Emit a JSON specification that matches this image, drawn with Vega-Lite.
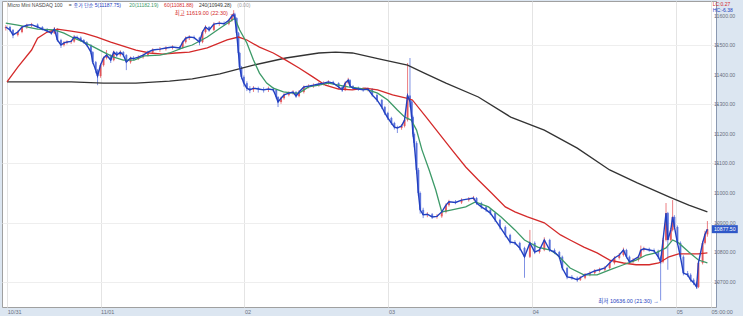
{
"$schema": "https://vega.github.io/schema/vega-lite/v6.json",
"width": 714, "height": 306,
"autosize": {"type": "none"},
"padding": {"left": 2, "top": 1, "right": 27, "bottom": 9},
"background": "#dce6f1",
"config": {"view": {"fill": "white", "stroke": "#a0a0a0", "strokeWidth": 1}, "font": "Liberation Sans, Noto Sans CJK KR"},
"datasets": {
"candles": [
{"t":8.2,"o":11558,"c":11562,"h":11568,"l":11550},
{"t":8.9,"o":11562,"c":11552,"h":11566,"l":11546},
{"t":9.4,"o":11552,"c":11535,"h":11555,"l":11524},
{"t":10.2,"o":11535,"c":11545,"h":11550,"l":11530},
{"t":10.9,"o":11545,"c":11562,"h":11566,"l":11541},
{"t":11.7,"o":11562,"c":11568,"h":11573,"l":11556},
{"t":12.5,"o":11568,"c":11570,"h":11576,"l":11562},
{"t":13.5,"o":11570,"c":11562,"h":11574,"l":11557},
{"t":14.3,"o":11562,"c":11555,"h":11565,"l":11550},
{"t":15.1,"o":11555,"c":11548,"h":11558,"l":11543},
{"t":15.8,"o":11548,"c":11541,"h":11551,"l":11535},
{"t":16.3,"o":11541,"c":11555,"h":11562,"l":11538},
{"t":16.8,"o":11555,"c":11518,"h":11558,"l":11512},
{"t":17.4,"o":11518,"c":11501,"h":11522,"l":11491},
{"t":17.9,"o":11501,"c":11508,"h":11514,"l":11496},
{"t":18.4,"o":11508,"c":11511,"h":11517,"l":11503},
{"t":19.1,"o":11511,"c":11513,"h":11518,"l":11505},
{"t":19.6,"o":11513,"c":11528,"h":11535,"l":11509},
{"t":20.1,"o":11528,"c":11526,"h":11533,"l":11520},
{"t":20.7,"o":11526,"c":11518,"h":11530,"l":11512},
{"t":21.2,"o":11518,"c":11511,"h":11521,"l":11505},
{"t":21.7,"o":11511,"c":11501,"h":11514,"l":11496},
{"t":22.4,"o":11501,"c":11477,"h":11504,"l":11470},
{"t":22.7,"o":11477,"c":11443,"h":11480,"l":11436},
{"t":23.2,"o":11443,"c":11416,"h":11447,"l":11405},
{"t":23.5,"o":11416,"c":11396,"h":11420,"l":11365},
{"t":24.0,"o":11396,"c":11433,"h":11438,"l":11390},
{"t":24.5,"o":11433,"c":11457,"h":11462,"l":11428},
{"t":25.0,"o":11457,"c":11467,"h":11484,"l":11452},
{"t":25.7,"o":11467,"c":11450,"h":11470,"l":11440},
{"t":26.2,"o":11450,"c":11477,"h":11482,"l":11446},
{"t":26.7,"o":11477,"c":11467,"h":11480,"l":11460},
{"t":27.3,"o":11467,"c":11477,"h":11483,"l":11462},
{"t":27.8,"o":11477,"c":11467,"h":11480,"l":11460},
{"t":28.3,"o":11467,"c":11443,"h":11470,"l":11416},
{"t":29.0,"o":11443,"c":11457,"h":11462,"l":11438},
{"t":29.5,"o":11457,"c":11455,"h":11463,"l":11449},
{"t":30.3,"o":11455,"c":11460,"h":11466,"l":11450},
{"t":31.1,"o":11460,"c":11467,"h":11472,"l":11455},
{"t":31.9,"o":11467,"c":11477,"h":11482,"l":11462},
{"t":32.7,"o":11477,"c":11484,"h":11490,"l":11472},
{"t":33.9,"o":11484,"c":11487,"h":11494,"l":11478},
{"t":34.9,"o":11487,"c":11491,"h":11497,"l":11482},
{"t":36.0,"o":11491,"c":11494,"h":11500,"l":11486},
{"t":37.2,"o":11494,"c":11491,"h":11498,"l":11485},
{"t":37.7,"o":11491,"c":11511,"h":11516,"l":11488},
{"t":38.2,"o":11511,"c":11524,"h":11530,"l":11506},
{"t":38.8,"o":11524,"c":11528,"h":11534,"l":11518},
{"t":39.6,"o":11528,"c":11526,"h":11533,"l":11520},
{"t":40.5,"o":11526,"c":11511,"h":11529,"l":11500},
{"t":41.0,"o":11511,"c":11545,"h":11550,"l":11507},
{"t":41.5,"o":11545,"c":11562,"h":11568,"l":11540},
{"t":42.1,"o":11562,"c":11552,"h":11565,"l":11546},
{"t":42.9,"o":11552,"c":11572,"h":11578,"l":11548},
{"t":43.8,"o":11572,"c":11575,"h":11582,"l":11566},
{"t":44.6,"o":11575,"c":11573,"h":11581,"l":11567},
{"t":45.4,"o":11573,"c":11585,"h":11590,"l":11568},
{"t":45.9,"o":11585,"c":11599,"h":11605,"l":11580},
{"t":46.2,"o":11599,"c":11605,"h":11619,"l":11594},
{"t":46.4,"o":11605,"c":11592,"h":11610,"l":11586},
{"t":46.7,"o":11592,"c":11541,"h":11595,"l":11535},
{"t":47.0,"o":11541,"c":11474,"h":11545,"l":11466},
{"t":47.2,"o":11474,"c":11426,"h":11478,"l":11418},
{"t":47.5,"o":11426,"c":11393,"h":11430,"l":11385},
{"t":47.9,"o":11393,"c":11372,"h":11398,"l":11360},
{"t":48.4,"o":11372,"c":11355,"h":11378,"l":11345},
{"t":48.9,"o":11355,"c":11349,"h":11362,"l":11338},
{"t":49.5,"o":11349,"c":11355,"h":11362,"l":11342},
{"t":50.3,"o":11355,"c":11352,"h":11360,"l":11340},
{"t":51.2,"o":11352,"c":11349,"h":11358,"l":11340},
{"t":52.0,"o":11349,"c":11352,"h":11360,"l":11342},
{"t":52.8,"o":11352,"c":11349,"h":11358,"l":11343},
{"t":53.3,"o":11349,"c":11325,"h":11352,"l":11318},
{"t":53.6,"o":11325,"c":11308,"h":11328,"l":11291},
{"t":54.1,"o":11308,"c":11321,"h":11326,"l":11302},
{"t":54.6,"o":11321,"c":11332,"h":11338,"l":11316},
{"t":55.4,"o":11332,"c":11338,"h":11344,"l":11327},
{"t":56.1,"o":11338,"c":11342,"h":11348,"l":11333},
{"t":56.6,"o":11342,"c":11328,"h":11345,"l":11322},
{"t":57.1,"o":11328,"c":11342,"h":11348,"l":11324},
{"t":57.9,"o":11342,"c":11359,"h":11364,"l":11337},
{"t":58.7,"o":11359,"c":11362,"h":11368,"l":11354},
{"t":59.5,"o":11362,"c":11365,"h":11371,"l":11356},
{"t":60.4,"o":11365,"c":11369,"h":11375,"l":11360},
{"t":61.2,"o":11369,"c":11372,"h":11378,"l":11364},
{"t":62.0,"o":11372,"c":11376,"h":11382,"l":11367},
{"t":62.8,"o":11376,"c":11372,"h":11380,"l":11366},
{"t":63.7,"o":11372,"c":11359,"h":11375,"l":11352},
{"t":64.3,"o":11359,"c":11349,"h":11362,"l":11342},
{"t":64.8,"o":11349,"c":11372,"h":11378,"l":11345},
{"t":65.3,"o":11372,"c":11382,"h":11390,"l":11368},
{"t":65.6,"o":11382,"c":11362,"h":11385,"l":11356},
{"t":66.1,"o":11362,"c":11355,"h":11365,"l":11349},
{"t":67.0,"o":11355,"c":11352,"h":11360,"l":11346},
{"t":67.8,"o":11352,"c":11349,"h":11357,"l":11343},
{"t":68.6,"o":11349,"c":11352,"h":11358,"l":11344},
{"t":69.3,"o":11352,"c":11332,"h":11355,"l":11326},
{"t":70.1,"o":11332,"c":11315,"h":11336,"l":11308},
{"t":70.9,"o":11315,"c":11291,"h":11318,"l":11284},
{"t":71.4,"o":11291,"c":11271,"h":11295,"l":11264},
{"t":71.9,"o":11271,"c":11254,"h":11275,"l":11247},
{"t":72.5,"o":11254,"c":11237,"h":11258,"l":11230},
{"t":73.0,"o":11237,"c":11223,"h":11241,"l":11215},
{"t":73.5,"o":11223,"c":11220,"h":11228,"l":11203},
{"t":74.2,"o":11220,"c":11227,"h":11233,"l":11214},
{"t":74.7,"o":11227,"c":11247,"h":11252,"l":11222},
{"t":75.2,"o":11247,"c":11330,"h":11440,"l":11242},
{"t":75.6,"o":11330,"c":11310,"h":11457,"l":11290},
{"t":75.9,"o":11310,"c":11257,"h":11315,"l":11245},
{"t":76.1,"o":11257,"c":11200,"h":11262,"l":11190},
{"t":76.3,"o":11200,"c":11169,"h":11205,"l":11155},
{"t":76.7,"o":11169,"c":11078,"h":11175,"l":11065},
{"t":77.0,"o":11078,"c":11000,"h":11085,"l":10990},
{"t":77.3,"o":11000,"c":10943,"h":11005,"l":10930},
{"t":77.8,"o":10943,"c":10926,"h":10950,"l":10915},
{"t":78.5,"o":10926,"c":10928,"h":10935,"l":10918},
{"t":79.3,"o":10928,"c":10919,"h":10932,"l":10912},
{"t":80.1,"o":10919,"c":10921,"h":10928,"l":10913},
{"t":80.9,"o":10921,"c":10936,"h":10942,"l":10916},
{"t":81.6,"o":10936,"c":10959,"h":10965,"l":10931},
{"t":82.1,"o":10959,"c":10970,"h":10977,"l":10954},
{"t":83.2,"o":10970,"c":10968,"h":10976,"l":10962},
{"t":84.2,"o":10968,"c":10976,"h":10982,"l":10963},
{"t":85.4,"o":10976,"c":10980,"h":10986,"l":10971},
{"t":86.2,"o":10980,"c":10983,"h":10990,"l":10975},
{"t":86.7,"o":10983,"c":10966,"h":10986,"l":10960},
{"t":87.5,"o":10966,"c":10953,"h":10970,"l":10946},
{"t":88.3,"o":10953,"c":10943,"h":10957,"l":10936},
{"t":89.0,"o":10943,"c":10932,"h":10947,"l":10925},
{"t":89.8,"o":10932,"c":10909,"h":10936,"l":10902},
{"t":90.6,"o":10909,"c":10885,"h":10913,"l":10877},
{"t":91.5,"o":10885,"c":10858,"h":10890,"l":10850},
{"t":92.3,"o":10858,"c":10834,"h":10862,"l":10826},
{"t":93.1,"o":10834,"c":10831,"h":10840,"l":10824},
{"t":93.9,"o":10831,"c":10814,"h":10835,"l":10806},
{"t":94.7,"o":10814,"c":10784,"h":10818,"l":10713},
{"t":95.6,"o":10784,"c":10831,"h":10875,"l":10780},
{"t":96.4,"o":10831,"c":10800,"h":10836,"l":10793},
{"t":97.2,"o":10800,"c":10807,"h":10814,"l":10795},
{"t":98.0,"o":10807,"c":10841,"h":10850,"l":10803},
{"t":98.9,"o":10841,"c":10807,"h":10845,"l":10800},
{"t":99.7,"o":10807,"c":10800,"h":10812,"l":10793},
{"t":100.5,"o":10800,"c":10784,"h":10804,"l":10777},
{"t":101.0,"o":10784,"c":10746,"h":10788,"l":10738},
{"t":101.8,"o":10746,"c":10716,"h":10750,"l":10708},
{"t":102.6,"o":10716,"c":10713,"h":10722,"l":10706},
{"t":103.5,"o":10713,"c":10706,"h":10717,"l":10699},
{"t":104.0,"o":10706,"c":10713,"h":10719,"l":10702},
{"t":104.8,"o":10713,"c":10723,"h":10729,"l":10708},
{"t":105.6,"o":10723,"c":10729,"h":10735,"l":10718},
{"t":106.4,"o":10729,"c":10736,"h":10742,"l":10724},
{"t":107.2,"o":10736,"c":10740,"h":10747,"l":10731},
{"t":108.1,"o":10740,"c":10746,"h":10753,"l":10735},
{"t":108.9,"o":10746,"c":10763,"h":10769,"l":10741},
{"t":109.7,"o":10763,"c":10780,"h":10786,"l":10758},
{"t":110.5,"o":10780,"c":10790,"h":10797,"l":10775},
{"t":111.2,"o":10790,"c":10807,"h":10815,"l":10785},
{"t":111.7,"o":10807,"c":10784,"h":10811,"l":10778},
{"t":112.2,"o":10784,"c":10767,"h":10788,"l":10760},
{"t":112.8,"o":10767,"c":10773,"h":10779,"l":10762},
{"t":113.7,"o":10773,"c":10784,"h":10790,"l":10768},
{"t":114.1,"o":10784,"c":10807,"h":10822,"l":10779},
{"t":114.6,"o":10807,"c":10811,"h":10818,"l":10802},
{"t":115.5,"o":10811,"c":10807,"h":10815,"l":10801},
{"t":116.3,"o":10807,"c":10804,"h":10812,"l":10798},
{"t":117.0,"o":10804,"c":10784,"h":10808,"l":10776},
{"t":117.4,"o":10784,"c":10767,"h":10788,"l":10636},
{"t":117.8,"o":10767,"c":10841,"h":10848,"l":10762},
{"t":118.3,"o":10841,"c":10932,"h":10966,"l":10836},
{"t":118.6,"o":10932,"c":10841,"h":10936,"l":10740},
{"t":119.1,"o":10841,"c":10875,"h":10882,"l":10835},
{"t":119.4,"o":10875,"c":10919,"h":10976,"l":10870},
{"t":119.7,"o":10919,"c":10885,"h":10925,"l":10878},
{"t":120.2,"o":10885,"c":10831,"h":10890,"l":10824},
{"t":120.7,"o":10831,"c":10784,"h":10836,"l":10776},
{"t":121.2,"o":10784,"c":10729,"h":10789,"l":10721},
{"t":121.9,"o":10729,"c":10723,"h":10736,"l":10716},
{"t":122.4,"o":10723,"c":10706,"h":10728,"l":10699},
{"t":122.9,"o":10706,"c":10696,"h":10711,"l":10688},
{"t":123.4,"o":10696,"c":10682,"h":10700,"l":10675},
{"t":123.7,"o":10682,"c":10763,"h":10770,"l":10678},
{"t":124.4,"o":10763,"c":10831,"h":10838,"l":10758},
{"t":124.8,"o":10831,"c":10860,"h":10872,"l":10826},
{"t":125.2,"o":10860,"c":10877.5,"h":10905,"l":10852}
],
"ma": [
{"s":"240","t":8.4,"v":11376},{"s":"240","t":13.5,"v":11376},{"s":"240","t":19.1,"v":11376},{"s":"240","t":24.5,"v":11372},{"s":"240","t":29.9,"v":11372},{"s":"240","t":35.5,"v":11379},{"s":"240","t":39.3,"v":11386},{"s":"240","t":43.9,"v":11403},{"s":"240","t":49.5,"v":11433},{"s":"240","t":54.9,"v":11457},{"s":"240","t":60.4,"v":11474},{"s":"240","t":63.2,"v":11477},{"s":"240","t":66.0,"v":11474},{"s":"240","t":70.6,"v":11453},{"s":"240","t":75.2,"v":11433},{"s":"240","t":78.0,"v":11406},{"s":"240","t":81.6,"v":11372},{"s":"240","t":87.0,"v":11325},{"s":"240","t":92.4,"v":11257},{"s":"240","t":98.0,"v":11213},{"s":"240","t":103.5,"v":11152},{"s":"240","t":108.9,"v":11078},{"s":"240","t":113.5,"v":11034},{"s":"240","t":118.8,"v":10987},{"s":"240","t":122.1,"v":10959},{"s":"240","t":125.2,"v":10936},
{"s":"60","t":8.4,"v":11376},{"s":"60","t":10.2,"v":11426},{"s":"60","t":12.5,"v":11484},{"s":"60","t":13.5,"v":11524},{"s":"60","t":15.1,"v":11545},{"s":"60","t":16.8,"v":11555},{"s":"60","t":19.1,"v":11548},{"s":"60","t":21.2,"v":11541},{"s":"60","t":23.4,"v":11528},{"s":"60","t":25.7,"v":11511},{"s":"60","t":27.8,"v":11497},{"s":"60","t":29.9,"v":11484},{"s":"60","t":32.2,"v":11474},{"s":"60","t":34.4,"v":11470},{"s":"60","t":36.5,"v":11474},{"s":"60","t":38.8,"v":11477},{"s":"60","t":41.8,"v":11491},{"s":"60","t":45.1,"v":11518},{"s":"60","t":47.0,"v":11528},{"s":"60","t":48.4,"v":11518},{"s":"60","t":50.5,"v":11494},{"s":"60","t":52.8,"v":11474},{"s":"60","t":54.9,"v":11450},{"s":"60","t":57.1,"v":11423},{"s":"60","t":59.4,"v":11393},{"s":"60","t":61.5,"v":11365},{"s":"60","t":63.7,"v":11352},{"s":"60","t":66.0,"v":11349},{"s":"60","t":68.1,"v":11355},{"s":"60","t":70.2,"v":11349},{"s":"60","t":72.7,"v":11332},{"s":"60","t":75.0,"v":11321},{"s":"60","t":76.0,"v":11315},{"s":"60","t":78.3,"v":11257},{"s":"60","t":80.4,"v":11203},{"s":"60","t":82.6,"v":11146},{"s":"60","t":84.9,"v":11088},{"s":"60","t":87.0,"v":11044},{"s":"60","t":89.2,"v":11000},{"s":"60","t":91.5,"v":10953},{"s":"60","t":93.1,"v":10936},{"s":"60","t":95.2,"v":10919},{"s":"60","t":98.0,"v":10899},{"s":"60","t":100.7,"v":10858},{"s":"60","t":102.3,"v":10841},{"s":"60","t":104.6,"v":10817},{"s":"60","t":106.8,"v":10797},{"s":"60","t":108.9,"v":10773},{"s":"60","t":111.2,"v":10763},{"s":"60","t":113.3,"v":10757},{"s":"60","t":115.5,"v":10757},{"s":"60","t":117.1,"v":10763},{"s":"60","t":118.8,"v":10784},{"s":"60","t":120.4,"v":10794},{"s":"60","t":122.1,"v":10794},{"s":"60","t":123.7,"v":10794},{"s":"60","t":125.2,"v":10797},
{"s":"20","t":8.2,"v":11575},{"s":"20","t":10.2,"v":11568},{"s":"20","t":13.5,"v":11555},{"s":"20","t":16.3,"v":11552},{"s":"20","t":17.9,"v":11541},{"s":"20","t":19.6,"v":11524},{"s":"20","t":21.2,"v":11511},{"s":"20","t":22.9,"v":11494},{"s":"20","t":24.5,"v":11477},{"s":"20","t":26.2,"v":11460},{"s":"20","t":27.8,"v":11450},{"s":"20","t":29.6,"v":11450},{"s":"20","t":31.3,"v":11464},{"s":"20","t":33.9,"v":11467},{"s":"20","t":35.5,"v":11474},{"s":"20","t":37.7,"v":11491},{"s":"20","t":39.3,"v":11501},{"s":"20","t":41.8,"v":11528},{"s":"20","t":43.9,"v":11558},{"s":"20","t":45.9,"v":11585},{"s":"20","t":46.4,"v":11592},{"s":"20","t":47.2,"v":11552},{"s":"20","t":48.4,"v":11508},{"s":"20","t":49.5,"v":11450},{"s":"20","t":50.5,"v":11406},{"s":"20","t":51.7,"v":11372},{"s":"20","t":52.8,"v":11355},{"s":"20","t":54.5,"v":11342},{"s":"20","t":56.1,"v":11338},{"s":"20","t":57.1,"v":11338},{"s":"20","t":58.7,"v":11359},{"s":"20","t":60.4,"v":11365},{"s":"20","t":62.0,"v":11372},{"s":"20","t":63.7,"v":11365},{"s":"20","t":65.3,"v":11359},{"s":"20","t":67.0,"v":11355},{"s":"20","t":68.6,"v":11349},{"s":"20","t":70.2,"v":11338},{"s":"20","t":71.9,"v":11315},{"s":"20","t":73.5,"v":11281},{"s":"20","t":74.7,"v":11257},{"s":"20","t":75.8,"v":11247},{"s":"20","t":76.7,"v":11213},{"s":"20","t":77.6,"v":11146},{"s":"20","t":78.8,"v":11078},{"s":"20","t":79.9,"v":11010},{"s":"20","t":80.9,"v":10936},{"s":"20","t":82.6,"v":10943},{"s":"20","t":84.9,"v":10953},{"s":"20","t":86.5,"v":10970},{"s":"20","t":88.7,"v":10953},{"s":"20","t":90.8,"v":10919},{"s":"20","t":93.1,"v":10875},{"s":"20","t":94.7,"v":10841},{"s":"20","t":96.9,"v":10817},{"s":"20","t":99.0,"v":10807},{"s":"20","t":100.2,"v":10790},{"s":"20","t":102.3,"v":10746},{"s":"20","t":104.6,"v":10723},{"s":"20","t":106.8,"v":10723},{"s":"20","t":108.9,"v":10740},{"s":"20","t":111.2,"v":10757},{"s":"20","t":113.3,"v":10773},{"s":"20","t":115.0,"v":10790},{"s":"20","t":116.6,"v":10797},{"s":"20","t":118.3,"v":10814},{"s":"20","t":119.4,"v":10841},{"s":"20","t":120.4,"v":10831},{"s":"20","t":122.1,"v":10800},{"s":"20","t":123.7,"v":10773},{"s":"20","t":125.2,"v":10763}
],
"header": [
{"s":"name","t":8.5,"v":11638,"text":"Micro Mini NASDAQ 100"},
{"s":"name","t":18.7,"v":11638,"text":"="},
{"s":"5","t":19.5,"v":11638,"text":"종가 단순 5(11187.75)"},
{"s":"20","t":28.8,"v":11638,"text":"20(11182.19)"},
{"s":"60","t":34.6,"v":11638,"text":"60(11081.88)"},
{"s":"240","t":40.4,"v":11638,"text":"240(10949.28)"},
{"s":"zero","t":46.8,"v":11638,"text":"(0.00)"}
],
"extremes": [
{"s":"high","t":46.4,"v":11611,"text":"최고 11619.00 (22:30) →"},
{"s":"low","t":117.1,"v":10635,"text":"최저 10636.00 (21:30) →"}
],
"corner": [
{"s":"lc","t":126.1,"v":11641,"text":"LC:0.27"},
{"s":"hc","t":126.1,"v":11621,"text":"HC:-6.38"}
],
"ylabels": [
{"t":125.8,"v":10700,"text":"10700.00"},{"t":125.8,"v":10800,"text":"10800.00"},{"t":125.8,"v":10900,"text":"10900.00"},{"t":125.8,"v":11000,"text":"11000.00"},{"t":125.8,"v":11100,"text":"11100.00"},{"t":125.8,"v":11200,"text":"11200.00"},{"t":125.8,"v":11300,"text":"11300.00"},{"t":125.8,"v":11400,"text":"11400.00"},{"t":125.8,"v":11500,"text":"11500.00"},{"t":125.8,"v":11600,"text":"11600.00"}
],
"last": [
{"t":128.1,"v":10877.5,"text":"10877.50"}
]
},
"encoding": {
"x": {"field": "t", "type": "quantitative",
 "scale": {"domain": [8.4, 125.8], "nice": false, "zero": false},
 "axis": {"title": null, "orient": "bottom", "values": [8.45, 24, 48, 72, 96, 120, 125.8],
  "labelExpr": "datum.value < 10 ? '10/31' : datum.value == 24 ? '11/01' : datum.value == 48 ? '02' : datum.value == 72 ? '03' : datum.value == 96 ? '04' : datum.value == 120 ? '05' : '05:00:00'",
  "labelAlign": "left", "labelBaseline": "top", "labelPadding": 2, "labelFontSize": 5.5, "labelColor": "#6a7080",
  "labelOverlap": false, "labelBound": false, "labelFlush": false,
  "ticks": false, "domain": false, "grid": true, "gridColor": "#e4e4e4", "gridWidth": 1}}
},
"layer": [
{"data": {"name": "candles"},
 "mark": {"type": "rule", "strokeWidth": 1, "opacity": 0.7},
 "encoding": {
  "y": {"field": "l", "type": "quantitative", "scale": {"domain": [10614, 11650], "nice": false, "zero": false},
   "axis": {"title": null, "orient": "right", "values": [10700, 10800, 10900, 11000, 11100, 11200, 11300, 11400, 11500, 11600],
    "labels": false, "tickSize": 2, "tickColor": "#8a98b0",
    "domainColor": "#8a98b0", "grid": true, "gridColor": "#eeeeee"}},
  "y2": {"field": "h"},
  "color": {"condition": {"test": "datum.c >= datum.o", "value": "#e2484e"}, "value": "#4a64d8"}}},
{"data": {"name": "candles"},
 "mark": {"type": "bar", "size": 2, "opacity": 0.8},
 "encoding": {
  "y": {"field": "o", "type": "quantitative", "scale": {"domain": [10614, 11650], "nice": false, "zero": false}},
  "y2": {"field": "c"},
  "color": {"condition": {"test": "datum.c >= datum.o", "value": "#e2484e"}, "value": "#4a64d8"}}},
{"data": {"name": "ma"},
 "mark": {"type": "line", "strokeWidth": 1.3},
 "encoding": {
  "y": {"field": "v", "type": "quantitative", "scale": {"domain": [10614, 11650], "nice": false, "zero": false}},
  "color": {"field": "s", "type": "nominal", "legend": null,
   "scale": {"domain": ["5", "20", "60", "240", "name", "zero", "high", "low", "lc", "hc"], "range": ["#2240c0", "#3d9a68", "#d42a2a", "#333333", "#444444", "#9a9a9a", "#d42a2a", "#2240c0", "#d42a2a", "#2240c0"]}}}},
{"data": {"name": "candles"},
 "mark": {"type": "line", "strokeWidth": 1.4, "color": "#2240c0"},
 "encoding": {
  "y": {"field": "c", "type": "quantitative", "scale": {"domain": [10614, 11650], "nice": false, "zero": false}}}},
{"data": {"name": "header"},
 "mark": {"type": "text", "align": "left", "baseline": "middle", "fontSize": 5},
 "encoding": {
  "y": {"field": "v", "type": "quantitative", "scale": {"domain": [10614, 11650], "nice": false, "zero": false}},
  "text": {"field": "text"},
  "color": {"field": "s", "type": "nominal", "legend": null,
   "scale": {"domain": ["5", "20", "60", "240", "name", "zero", "high", "low", "lc", "hc"], "range": ["#2240c0", "#3d9a68", "#d42a2a", "#333333", "#444444", "#9a9a9a", "#d42a2a", "#2240c0", "#d42a2a", "#2240c0"]}}}},
{"data": {"name": "extremes"},
 "mark": {"type": "text", "align": "right", "baseline": "middle", "fontSize": 5.5},
 "encoding": {
  "y": {"field": "v", "type": "quantitative", "scale": {"domain": [10614, 11650], "nice": false, "zero": false}},
  "text": {"field": "text"},
  "color": {"field": "s", "type": "nominal", "legend": null,
   "scale": {"domain": ["5", "20", "60", "240", "name", "zero", "high", "low", "lc", "hc"], "range": ["#2240c0", "#3d9a68", "#d42a2a", "#333333", "#444444", "#9a9a9a", "#d42a2a", "#2240c0", "#d42a2a", "#2240c0"]}}}},
{"data": {"name": "corner"},
 "mark": {"type": "text", "align": "left", "baseline": "middle", "fontSize": 5},
 "encoding": {
  "y": {"field": "v", "type": "quantitative", "scale": {"domain": [10614, 11650], "nice": false, "zero": false}},
  "text": {"field": "text"},
  "color": {"field": "s", "type": "nominal", "legend": null,
   "scale": {"domain": ["5", "20", "60", "240", "name", "zero", "high", "low", "lc", "hc"], "range": ["#2240c0", "#3d9a68", "#d42a2a", "#333333", "#444444", "#9a9a9a", "#d42a2a", "#2240c0", "#d42a2a", "#2240c0"]}}}},
{"data": {"name": "ylabels"},
 "mark": {"type": "text", "align": "left", "baseline": "middle", "fontSize": 5.2, "dx": 3, "color": "#6a7080"},
 "encoding": {
  "y": {"field": "v", "type": "quantitative", "scale": {"domain": [10614, 11650], "nice": false, "zero": false}},
  "text": {"field": "text"}}},
{"data": {"name": "last"},
 "mark": {"type": "tick", "orient": "horizontal", "size": 26, "thickness": 8, "color": "#2f58c8", "opacity": 1},
 "encoding": {
  "y": {"field": "v", "type": "quantitative", "scale": {"domain": [10614, 11650], "nice": false, "zero": false}}}},
{"data": {"name": "last"},
 "mark": {"type": "text", "align": "center", "baseline": "middle", "fontSize": 5.2, "color": "white"},
 "encoding": {
  "y": {"field": "v", "type": "quantitative", "scale": {"domain": [10614, 11650], "nice": false, "zero": false}},
  "text": {"field": "text"}}}
]
}
